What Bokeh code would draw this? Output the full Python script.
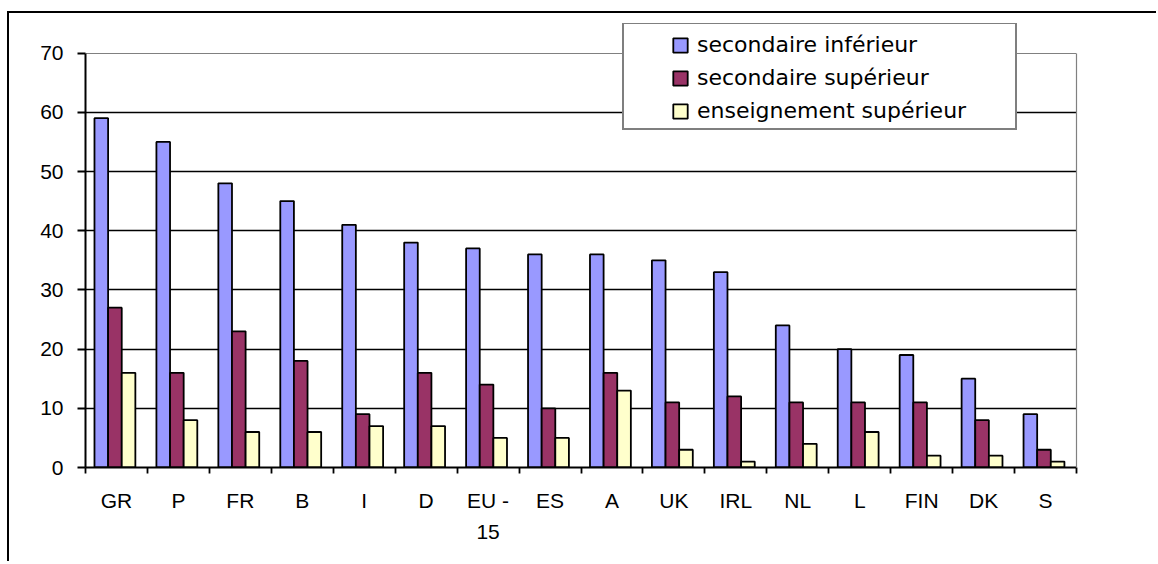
import numpy as np
from bokeh.plotting import figure
from bokeh.models import ColumnDataSource, FixedTicker, Legend, LegendItem, Range1d, Grid, LinearAxis
from bokeh.transform import dodge
from bokeh.embed import file_html
from bokeh.resources import INLINE

countries = ["GR", "P", "FR", "B", "I", "D", "EU -\n15", "ES", "A", "UK", "IRL", "NL", "L", "FIN", "DK", "S"]
sec_inf = [59, 55, 48, 45, 41, 38, 37, 36, 36, 35, 33, 24, 20, 19, 15, 9]
sec_sup = [27, 16, 23, 18, 9, 16, 14, 10, 16, 11, 12, 11, 11, 11, 8, 3]
ens_sup = [16, 8, 6, 6, 7, 7, 5, 5, 13, 3, 1, 4, 6, 2, 2, 1]
series_names = ["secondaire inférieur", "secondaire supérieur", "enseignement supérieur"]
colors = ["#9999FF", "#993366", "#FFFFCC"]
y_ticks = [0, 10, 20, 30, 40, 50, 60, 70]

n = len(countries)
pos = np.arange(n) + 0.5
src = ColumnDataSource(dict(x=pos, inf=sec_inf, sup=sec_sup, ens=ens_sup))

AX_FONT = "Liberation Sans"
LEG_FONT = "DejaVu Sans"
Y_TOP = 75  # frame extends a little above the 70 line so the legend is not clipped

p = figure(width=1149, height=550,
           x_range=Range1d(0, n), y_range=Range1d(y_ticks[0], Y_TOP),
           output_backend="svg", toolbar_location=None,
           min_border_left=76, min_border_right=82, min_border_top=10, min_border_bottom=96,
           styles={"border-top": "2px solid black", "border-left": "2px solid black"},
           margin=(11, 0, 0, 7))

p.background_fill_color = "white"
p.border_fill_color = "white"
p.outline_line_color = None

# grid
p.xgrid.visible = False
p.ygrid.ticker = FixedTicker(ticks=y_ticks[1:-1])
p.ygrid.grid_line_color = "black"
p.ygrid.grid_line_width = 1.5
top_grid = Grid(dimension=1, ticker=FixedTicker(ticks=[y_ticks[-1]]),
                grid_line_color="#808080", grid_line_width=1.2)
p.add_layout(top_grid)

# x axis: labels at centres, ticks at category boundaries
xa = p.xaxis[0]
xa.ticker = FixedTicker(ticks=[float(v) for v in pos], minor_ticks=list(range(n + 1)))
xa.major_label_overrides = {float(v): c for v, c in zip(pos, countries)}
xa.major_tick_line_color = None
xa.major_tick_out = 0
xa.major_tick_in = 0
xa.minor_tick_line_color = "black"
xa.minor_tick_line_width = 1.8
xa.minor_tick_out = 6
xa.minor_tick_in = 0
xa.axis_line_color = "black"
xa.axis_line_width = 2
xa.major_label_text_font = AX_FONT
xa.major_label_text_font_size = "21px"
xa.major_label_text_color = "black"
xa.major_label_text_line_height = 1.36
xa.major_label_standoff = 15

ya = p.yaxis[0]
ya.ticker = FixedTicker(ticks=y_ticks)
ya.bounds = (y_ticks[0], y_ticks[-1])
ya.major_tick_out = 8
ya.major_tick_in = 0
ya.major_tick_line_color = "black"
ya.major_tick_line_width = 1.8
ya.minor_tick_line_color = None
ya.axis_line_color = "black"
ya.axis_line_width = 2
ya.major_label_text_font = AX_FONT
ya.major_label_text_font_size = "21px"
ya.major_label_text_color = "black"
ya.major_label_standoff = 14

# right frame edge (grey) limited to 0..70
ra = LinearAxis(bounds=(y_ticks[0], y_ticks[-1]), ticker=FixedTicker(ticks=[]),
                axis_line_color="#808080", axis_line_width=1.2,
                major_tick_line_color=None, minor_tick_line_color=None,
                major_label_text_font_size="0px")
p.add_layout(ra, "right")

bar_w = 0.22
offsets = [-0.245, -0.025, 0.195]
fields = ["inf", "sup", "ens"]
renderers = []
for f, off, col in zip(fields, offsets, colors):
    r = p.vbar(x=dodge("x", off, range=p.x_range), top=f, width=bar_w, source=src,
               fill_color=col, line_color="black", line_width=1.8)
    renderers.append(r)

# invisible renderer used for the legend frame
r_box = p.vbar(x="x", top="inf", width=bar_w, source=src, fill_color=None, line_color=None)

leg_box = Legend(items=[LegendItem(label=" ", renderers=[r_box])],
                 location=(537, 337), padding=0, margin=0, spacing=0,
                 glyph_width=1, glyph_height=104, label_height=104, label_width=390,
                 label_standoff=0, label_text_font_size="10px",
                 border_line_color="black", border_line_width=2,
                 background_fill_color="white", background_fill_alpha=1.0)
p.add_layout(leg_box, "center")

leg = Legend(items=[LegendItem(label=s, renderers=[r]) for s, r in zip(series_names, renderers)],
             location=(586, 344), orientation="vertical", padding=0, margin=0, spacing=8,
             glyph_width=18, glyph_height=18, label_height=18, label_standoff=8,
             label_text_font=LEG_FONT, label_text_font_size="22px", label_text_color="black",
             border_line_color=None, background_fill_alpha=0.0)
p.add_layout(leg, "center")

open("out.html", "w").write(file_html(p, INLINE))
